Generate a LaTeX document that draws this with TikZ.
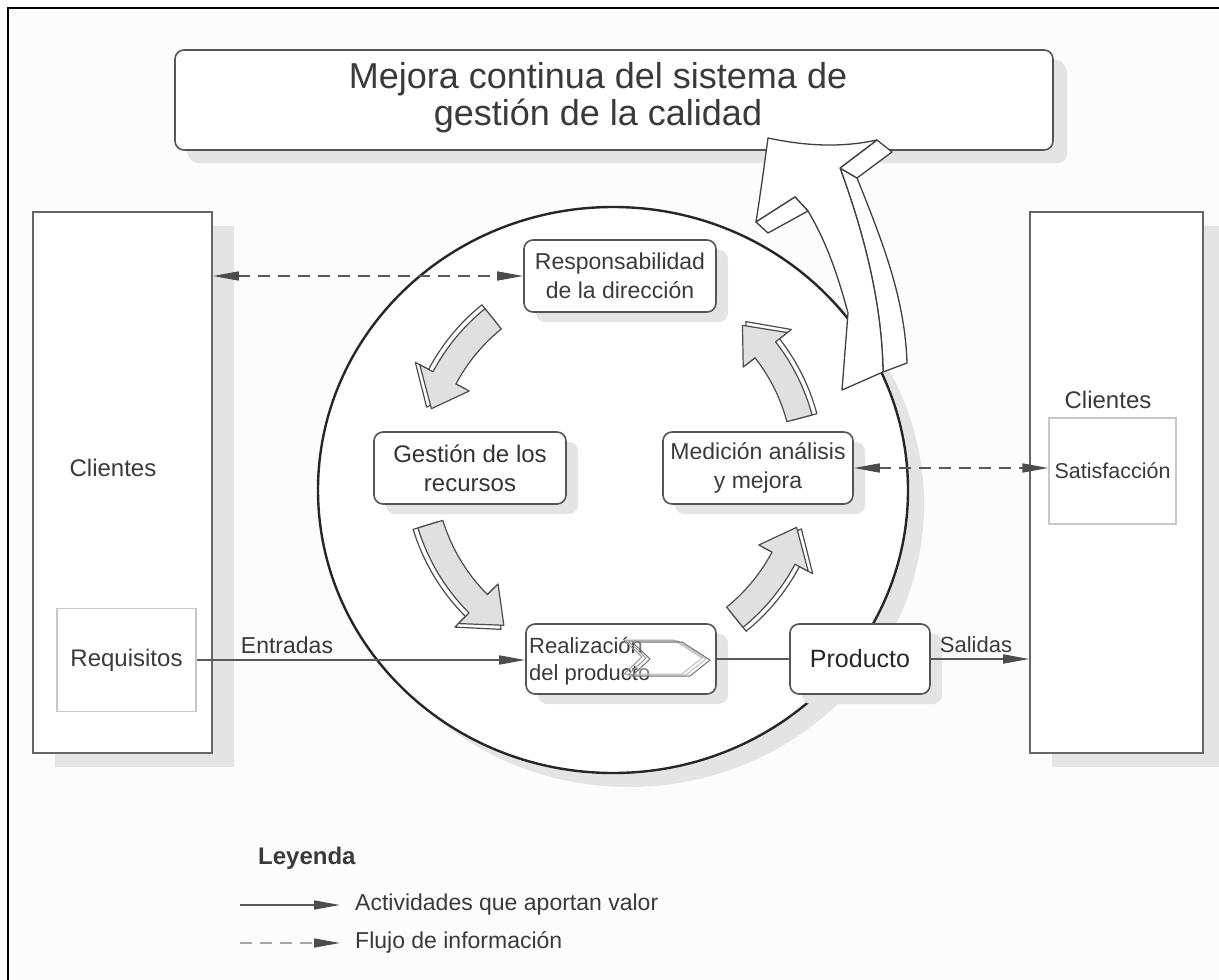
\documentclass[tikz,border=0pt]{standalone}
\usepackage{fontspec}
\setmainfont{Liberation Sans}
\usetikzlibrary{arrows.meta,shapes.geometric,shadows}
\definecolor{edge}{HTML}{555555}
\definecolor{txt}{HTML}{3A3A3A}
\definecolor{shd}{HTML}{E4E4E4}
\definecolor{arrfill}{HTML}{E0E0E0}
\definecolor{bgc}{HTML}{FCFCFC}
% #1 tail angle, #2 head angle (math degrees, ccw), #3 radius, #4 style
\newcommand\cyclearrow[4]{%
  \draw[#4] ({-#1}:{#3+13}) arc[start angle={-#1}, end angle={-#2+10}, radius={#3+13}]
    -- ({-#2+10}:{#3+28}) -- ({-#2}:{#3}) -- ({-#2+10}:{#3-28}) -- ({-#2+10}:{#3-13})
    arc[start angle={-#2+10}, end angle={-#1}, radius={#3-13}] -- cycle;}
\begin{document}
\begin{tikzpicture}[x=1pt,y=-1pt,
  >={Triangle[length=26pt,width=9pt,color=black!70]},
  rbox/.style={draw=edge, line width=1.6pt, rounded corners=9pt, fill=white, text=txt,
    align=center, inner sep=0pt, font=\fontsize{23}{29}\selectfont,
    drop shadow={shadow xshift=12pt, shadow yshift=-10pt, fill=shd, opacity=1}},
  cbox/.style={draw=black!60, line width=1.6pt, fill=white, inner sep=0pt,
    drop shadow={shadow xshift=22pt, shadow yshift=-14pt, fill=shd, opacity=1}},
  ibox/.style={draw=black!22, line width=1.4pt, fill=white, inner sep=0pt, text=txt,
    font=\fontsize{21.5}{26}\selectfont},
  lbl/.style={text=txt, font=\fontsize{22}{26}\selectfont, inner sep=0pt},
  conn/.style={draw=black!65, line width=1.6pt},
  dconn/.style={conn, dash pattern=on 12pt off 8pt},
  cyc/.style={draw=black!70, line width=1.2pt, fill=arrfill, line join=round},
  cycback/.style={draw=black!70, line width=1.2pt, fill=white, line join=round},
  ribbon/.style={draw=black!75, line width=1.3pt, fill=white, line join=round},
  chev/.style={draw=black!55, line width=1pt}
]
\useasboundingbox (0,0) rectangle (1219,980);
\fill[bgc] (8,8) rectangle (1219,980);
\draw[black, line width=2.5pt] (8,8) rectangle (1260,1020);

% title
\node[rbox, minimum width=878pt, minimum height=100pt,
  drop shadow={shadow xshift=14pt, shadow yshift=-13pt, fill=shd, opacity=1}]
  (title) at (614,100) {};
\node[lbl, align=center, font=\fontsize{36}{37}\selectfont] (titletxt) at (598,98) {Mejora continua del sistema de\\gestión de la calidad};

% client boxes
\node[cbox, minimum width=179pt, minimum height=541pt] (cl) at (122.5,482.5) {};
\node[lbl, font=\fontsize{24}{26}\selectfont] (cltxt) at (113,468) {Clientes};
\node[ibox, minimum width=139pt, minimum height=103pt, font=\fontsize{24}{26}\selectfont] (req) at (126.5,660) {Requisitos};

\node[cbox, minimum width=173pt, minimum height=541pt] (cr) at (1116.5,482.5) {};
\node[lbl, font=\fontsize{24}{26}\selectfont] (crtxt) at (1108,400) {Clientes};
\node[ibox, minimum width=127pt, minimum height=106pt] (sat) at (1112.5,471) {Satisfacción};

% circle
\node[ellipse, draw=black!85, line width=2.4pt, fill=white, minimum width=590pt, minimum height=566pt,
  drop shadow={shadow xshift=16pt, shadow yshift=-14pt, fill=shd, opacity=1}] (circ) at (613,490) {};

% process boxes
\node[rbox, minimum width=192pt, minimum height=72pt] (resp) at (620,276) {Responsabilidad\\de la dirección};
\node[rbox, minimum width=192pt, minimum height=72pt, text=black!80, font=\fontsize{24}{29}\selectfont] (gest) at (470,468) {Gestión de los\\recursos};
\node[rbox, minimum width=190pt, minimum height=72pt] (med) at (758,468) {Medición análisis\\y mejora};
\node[rbox, minimum width=190pt, minimum height=70pt] (real) at (621,659) {};
\node[lbl, anchor=west, align=left, font=\fontsize{22}{27}\selectfont] (realtxt) at (529,661) {Realización\\del producto};
\node[rbox, minimum width=140pt, minimum height=70pt, text=black!85, font=\fontsize{25}{29}\selectfont] (prod) at (860,659) {Producto};

% chevron inside Realizacion
\foreach \s/\t in {-8/-2, -4/-1}{
  \begin{scope}[shift={(\s,\t)}]
    \draw[chev, draw=black!40] (632,642) -- (682,642) -- (710,660) -- (690,676) -- (632,676) -- (650,659) -- cycle;
  \end{scope}}
\draw[chev, fill=white, fill opacity=0.35] (632,642) -- (682,642) -- (710,660) -- (690,676) -- (632,676) -- (650,659) -- cycle;

% connectors
\draw[conn, ->] (req.east) -- (req.east -| real.west);
\node[lbl, font=\fontsize{23}{26}\selectfont] (entr) at (287,645) {Entradas};
\draw[conn] (real.east) -- (real.east -| prod.west);
\draw[conn, ->] (prod.east) -- (prod.east -| cr.west);
\node[lbl] (sal) at (976,645) {Salidas};
\draw[dconn, <->] (cl.east |- resp.west) -- (resp.west);
\draw[dconn, <->] (med.east) -- (med.east -| sat.west);

% cycle arrows
\begin{scope}[shift={(614,468)}]
  \cyclearrow{129}{162}{197}{cycback}
  \cyclearrow{129}{162}{192}{cyc}
  \cyclearrow{197}{235}{197}{cycback}
  \cyclearrow{197}{235}{192}{cyc}
  \cyclearrow{309}{342}{197}{cycback}
  \cyclearrow{309}{342}{192}{cyc}
  \cyclearrow{15}{48}{197}{cycback}
  \cyclearrow{15}{48}{192}{cyc}
\end{scope}

% big improvement ribbon arrow
\draw[ribbon] (840,168) -- (857,178) .. controls (884,245) and (905,300) .. (907,363)
  -- (883,372) .. controls (882,300) and (862,228) .. (840,168) -- cycle;
\draw[ribbon] (877,140) -- (892,152) -- (857,178) -- (840,168) -- cycle;
\draw[ribbon] (768,138) .. controls (810,147) and (845,147) .. (877,140) -- (840,168)
  .. controls (862,228) and (882,300) .. (883,372) -- (842,390) -- (848,313)
  .. controls (836,268) and (824,238) .. (808,211) -- (795,197) -- (756,222)
  .. controls (761,190) and (765,160) .. (768,138) -- cycle;
\draw[ribbon] (756,222) -- (795,197) -- (808,211) -- (768,233) -- cycle;

% legend
\node[lbl, anchor=west, font=\bfseries\fontsize{24}{26}\selectfont] (ley) at (258,858) {Leyenda};
\coordinate (l1a) at (240,905);
\coordinate (l1b) at (340,905);
\draw[conn, ->] (l1a) -- (l1b);
\node[lbl, anchor=west, font=\fontsize{23}{26}\selectfont] (l1t) at (355,905) {Actividades que aportan valor};
\coordinate (l2a) at (240,943);
\coordinate (l2b) at (340,943);
\draw[dconn, draw=black!35, ->] (l2a) -- (l2b);
\node[lbl, anchor=west, font=\fontsize{23}{26}\selectfont] (l2t) at (355,942) {Flujo de información};
\end{tikzpicture}
\end{document}
